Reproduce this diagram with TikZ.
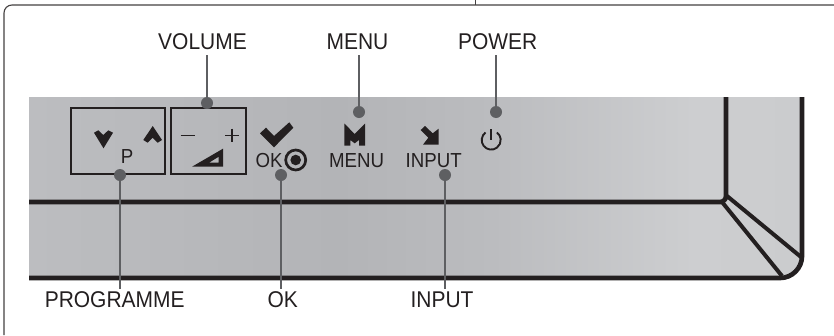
\documentclass[tikz,border=0pt]{standalone}
\usepackage{fontspec}
\setmainfont[FakeStretch=0.92]{Liberation Sans}
\definecolor{ink}{HTML}{231F20}
\definecolor{leader}{HTML}{5E5F62}
\definecolor{pa}{HTML}{BCBDC0}
\definecolor{pb}{HTML}{B3B4B7}
\definecolor{pc}{HTML}{BBBCBF}
\definecolor{pd}{HTML}{CDCED0}
\definecolor{pe}{HTML}{CBCCCE}
\pgfdeclarehorizontalshading{panelshade}{100bp}{
  color(0bp)=(pa); color(25bp)=(pa); color(45bp)=(pb);
  color(55bp)=(pc); color(68bp)=(pd); color(75bp)=(pe); color(100bp)=(pe)}
\tikzset{
  frameline/.style={draw=ink!85,line width=1.1pt},
  heavy/.style={draw=ink,line width=4.7pt},
  keybox/.style={draw=ink,line width=2pt},
  glyph/.style={fill=ink,draw=none},
  callout/.style={font=\fontsize{22.8}{23}\selectfont,text=ink,inner sep=0pt},
  keytext/.style={font=\fontsize{20.3}{21}\selectfont,text=ink,inner sep=0pt},
  dot/.style={circle,fill=leader,draw=none,minimum size=12pt,inner sep=0pt},
  lead/.style={draw=leader,line width=2.6pt}
}
\begin{document}
\begin{tikzpicture}[x=1pt,y=-1pt]
\useasboundingbox (0,0) rectangle (834,335);
% outer frame
\draw[frameline,rounded corners=8pt] (4,335) -- (4,5) -- (834,5);
\draw[draw=ink!85,line width=0.8pt] (475,0) -- (475,5);
% panel
\shade[shading=panelshade] (29,97) -- (802,97) -- (802,256) arc[start angle=0,end angle=90,radius=22pt,y radius=-22pt] -- (29,278) -- cycle;
\draw[heavy] (29,278) -- (780,278) arc[start angle=90,end angle=0,radius=22pt,y radius=-22pt] -- (802,97);
\draw[heavy,rounded corners=6pt,line cap=butt] (29,202) -- (726,202) -- (726,97);
\draw[draw=ink,line width=4pt] (727,196) -- (801,257);
\draw[draw=ink,line width=4pt] (722,202) -- (782,276);
% key boxes
\draw[keybox] (71,108) rectangle (165,174);
\draw[keybox] (171,108) rectangle (246,174);
% chevrons
\fill[glyph] (94,132.7) -- (98.3,130.3) -- (103.3,135) -- (108.3,130.3) -- (113,132.7) -- (103.5,148.3) -- cycle;
\fill[glyph] (143.3,140) -- (152.7,126) -- (162,140) -- (157.7,142.7) -- (152.7,137.7) -- (147.7,142.7) -- cycle;
\node[keytext] (ptxt) at (127,157) {P};
% volume glyphs
\draw[draw=ink,line width=1.5pt] (180.7,135.3) -- (194.7,135.3);
\draw[draw=ink,line width=1.5pt] (225.3,135.3) -- (238.7,135.3) (232,128.7) -- (232,142);
\fill[glyph,even odd rule] (192,166.7) -- (223,148.7) -- (223,166.7) -- cycle (209,162.7) -- (218.7,162.7) -- (218.7,156.7) -- cycle;
% OK glyphs
\fill[glyph] (260,133.3) -- (266,127.7) -- (274,136) -- (289.3,122.3) -- (293.3,127.7) -- (274,147.3) -- cycle;
\node[keytext] (oktxt) at (269,160.5) {OK};
\draw[draw=ink,line width=2.7pt] (295.7,160) circle (10pt);
\fill[glyph] (295.7,160) circle (5.3pt);
% menu glyphs
\fill[glyph] (344.3,123.5) -- (354.7,134) -- (365,123.5) -- (365,145.7) -- (359,145.7) -- (359,140) -- (354.7,143.3) -- (350.3,140) -- (350.3,145.7) -- (344.3,145.7) -- cycle;
\node[keytext] (menutxt) at (356.5,160.5) {MENU};
% input glyphs
\fill[glyph] (420.7,130) -- (425,126) -- (432.7,133.3) -- (438.7,128.7) -- (438.7,144.7) -- (423,144.7) -- (428.3,137.7) -- cycle;
\node[keytext] (inputtxt) at (433.7,160.5) {INPUT};
% power glyph
\draw[draw=ink,line width=1.9pt] (485.5,132.5) arc[start angle=-127,delta angle=-286,x radius=9.5pt,y radius=-9.5pt];
\draw[draw=ink,line width=1.9pt] (491.3,129) -- (491.3,140);
% callouts
\node[callout] (lvolume) at (202.5,42) {VOLUME};
\node[callout] (lmenu) at (357.5,42) {MENU};
\node[callout] (lpower) at (497.7,42) {POWER};
\node[callout] (lprog) at (114.7,300) {PROGRAMME};
\node[callout] (lok) at (282.7,300) {OK};
\node[callout] (linput) at (442,300) {INPUT};
% dots
\node[dot] (dvolume) at (207,103) {};
\node[dot] (dmenu) at (359,112) {};
\node[dot] (dpower) at (496,112) {};
\node[dot] (dprog) at (120,175) {};
\node[dot] (dok) at (281,175) {};
\node[dot] (dinput) at (445,175) {};
% leader ends
\coordinate (evolume) at (207,55);
\coordinate (emenu) at (359,55);
\coordinate (epower) at (496,55);
\coordinate (eprog) at (120,288.5);
\coordinate (eok) at (281,288.5);
\coordinate (einput) at (445,288.5);
\draw[lead] (evolume) -- (dvolume);
\draw[lead] (emenu) -- (dmenu);
\draw[lead] (epower) -- (dpower);
\draw[lead] (eprog) -- (dprog);
\draw[lead] (eok) -- (dok);
\draw[lead] (einput) -- (dinput);
\end{tikzpicture}
\end{document}
